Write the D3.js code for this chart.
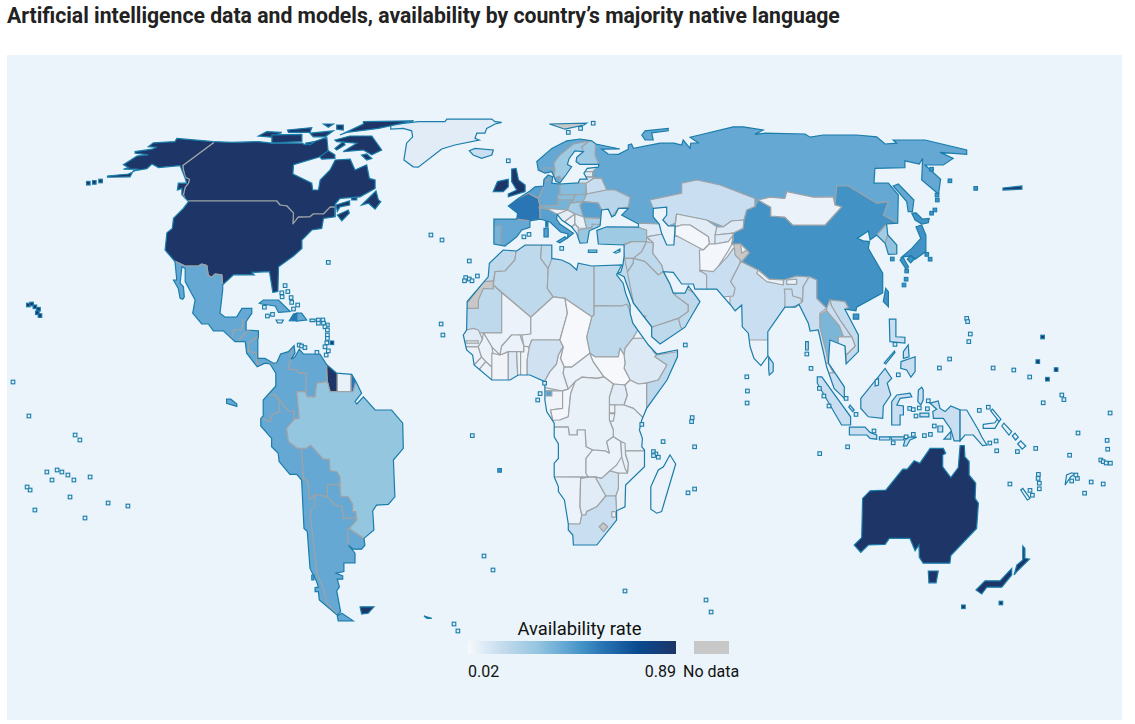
<!DOCTYPE html>
<html>
<head>
<meta charset="utf-8">
<script src="https://cdn.jsdelivr.net/npm/d3@7"></script>
<style>
html, body { margin: 0; background: #fff; }
svg { display: block; font-family: Roboto, sans-serif; }
</style>
</head>
<body>
<svg id="chart" width="1135" height="724"></svg>
<script>
var chartTitle = "Artificial intelligence data and models, availability by country\u2019s majority native language";
var legendTitle = "Availability rate";
var noDataLabel = "No data";
var rateExtent = [0.02, 0.89];
var rateStops = [0.02, 0.11, 0.2, 0.31, 0.42, 0.5, 0.58, 0.73, 0.89];
var rateColors = ["#f7f8fb", "#d6e6f4", "#b9d5ea", "#95c6e0", "#65a8d4", "#4292c6", "#2a75b4", "#0a4a90", "#1d3567"];

var mainlands = [
	// the Americas
	[-114.4,65.4,-102.2,64.6,-96.1,64.4,-87.2,64.6,-82.7,64.2,-72.7,64.2,-71.6,63.8,-64.4,65.7,-63.9,61.7,-67.2,60.7,-75.5,58.8,-75.7,56.5,-69.4,54.2,-69.1,52.5,-67.2,52.5,-66.6,55,-63.3,57.5,-61.6,60,-56.6,60.2,-55,57.5,-51.1,58.8,-50.2,55.4,-48.3,55,-48.3,52.9,-53.3,50.8,-60,50.4,-61.6,49,-61.6,45.8,-65.5,45.4,-66.1,42.9,-69.4,42.5,-72.7,40,-72.7,37.9,-75.5,36,-80.5,33.3,-80.7,27.1,-82.4,26.9,-83.5,32.1,-89.4,31.9,-88.6,31.3,-95.5,31.3,-99.1,28.8,-99.1,27.5,-100,21.7,-98.3,20.7,-94.4,20.8,-92.7,22.9,-89.4,22.9,-89.4,21.7,-91.3,19.6,-91.3,17.5,-87.2,17.3,-87.2,15.8,-87.4,15,-87.4,10.4,-85,10.4,-82.2,9.2,-81.1,9.3,-79.8,11.5,-77.2,12.1,-75.3,13.6,-75,11.7,-76.3,10.2,-75,10.8,-73.6,12.7,-72.2,11.5,-66.7,11.5,-64.4,8.8,-61.1,6.7,-56.1,6.4,-54.7,4.6,-52.8,1.7,-55,-0.4,-54.4,-1,-52.2,0.8,-48.3,-2.5,-42.8,-2.5,-39.1,-5.8,-38.9,-12.1,-42.2,-15,-41.7,-24.2,-43.9,-26.1,-47.8,-26.3,-49.1,-27.7,-48.7,-32.5,-52,-34.6,-51.7,-36.3,-52.8,-37.3,-55.6,-37.3,-57.2,-36.3,-55,-38.3,-55,-40.7,-58.7,-40.7,-58.7,-42.9,-61.3,-43.3,-59.1,-44,-59.1,-44.8,-60.9,-44.8,-60.2,-46.7,-61.1,-47.7,-59.8,-52.9,-60.9,-53.8,-66.9,-50,-67.2,-47.9,-68.3,-47.9,-68.3,-46.9,-67.2,-46.8,-67.8,-45.4,-70,-42.1,-70.9,-32.9,-72,-32.1,-72.8,-20,-74.4,-18.6,-76.7,-18.6,-80.3,-15.4,-80.6,-13.3,-82.8,-11.7,-82.8,-9.6,-86.4,-6.5,-86.4,-4.6,-85.6,-4,-85.6,0,-81.4,3.5,-81.4,6.7,-83.3,9,-85,9.2,-87.6,8.3,-91.1,11.7,-91.6,14.6,-95,14.6,-98.9,17.3,-102.2,17.3,-103.9,19,-106.1,19,-109.1,21.7,-108.3,25,-111.6,29.6,-111.6,32.9,-112.7,33.3,-113.3,29.2,-112.2,28.3,-111.9,25.8,-112.4,25.2,-113.3,25.4,-113.9,27.9,-115.5,30,-114.4,30,-115,34.6,-118.3,37.5,-117.7,41.8,-115.9,42.9,-115.5,45.4,-112.2,47.9,-110.5,49.6,-112.7,51.3,-112.7,52.9,-114.2,52.5,-113.9,54.2,-111.1,54.2,-111.6,55.4,-112.7,57.5,-113.3,58.6,-120.5,58.1,-122.7,59,-124.4,57.8,-128.9,57.3,-130,55.8,-137.5,55.7,-137.5,56,-130.5,56.5,-127.2,57.7,-132.2,57.7,-130.5,58.1,-132.2,58.8,-127.7,61,-123.9,61.3,-128.3,61.7,-128.3,62.1,-122.7,62.7,-121.1,63.2,-123.9,63.3,-122.2,64.3,-115,64.6],
	// Africa
	[-5.6,37.5,-1.1,37.25,1.7,38.75,10.6,38.75,10.6,35.4,13.9,35,16.7,34,18.9,32.5,19.4,34.2,23.9,33.5,33.9,33.75,32.2,31.25,34.4,29.2,35.2,26.7,36.7,23.75,36.7,21.7,37.6,19.2,42.8,13.75,45.6,11.5,52.5,12.5,52.5,10.8,49,5,42.2,-2.1,40.6,-5,39.8,-7.5,40.8,-9.6,40.6,-11.7,41.5,-12.5,41.5,-16.7,35.2,-21.25,35,-26.7,32.2,-27.7,32.2,-30,25.6,-36.25,17.8,-36.25,17.6,-33.75,16.1,-32.5,16.1,-31,14.8,-25,12.8,-22.9,12.8,-21.7,11.4,-19.2,11.4,-15.8,12.8,-14.6,12.8,-11,11.4,-9.2,11.4,-5.8,8.9,-2.9,8.3,0,8.3,4.6,3.3,6.25,-0.6,6.25,-3.3,5,-9.4,5,-15.3,8.75,-15.8,11.25,-17.8,12.5,-18.9,16.25,-17.8,17.5,-17.6,24.6,-10.6,30.8,-10.2,34.2],
	// Eurasia
	[-8.7,45.2,-1.1,45.2,-0.8,46.7,-3.9,48.5,-0.6,50.4,3.3,52.25,5,53.3,7.8,53.5,8,55.2,9.4,56.25,10.9,55.8,10.6,54.2,13.3,54,19.4,54.3,20,55.2,22.4,55.2,21.3,56.7,22.4,57.9,26.1,58.2,26.3,58.9,20,58.9,18.7,59.6,18.9,60.7,21.1,62.1,18.3,62.3,16.4,60.4,15.8,58.9,17.2,58.3,15.3,56.25,13.3,54.3,12,54.6,10.6,57.1,8.3,56.7,6.1,57.5,5.6,59.6,10.6,62.9,15.6,64.8,20,65.25,23.9,64.8,25.3,64,33.3,62.75,27.2,62.7,29.4,61.5,32.8,61.4,36.1,62.7,36.1,63.75,37.2,64,37.8,62.9,46.7,64.2,51.3,64.2,53.9,63.75,54.4,65,56.7,62.9,56.9,64.2,59.4,64.3,56.7,65.7,59.8,66.25,71.1,68.3,74.4,68.3,81.1,67.5,78.3,66.4,81.7,66.7,95,66.5,96.7,65.7,101.1,66.25,112.2,66.25,118.9,65.8,121.7,64,125.6,64.2,124.4,65,135,65,148.9,62.5,148.9,61.4,140,61.9,144.4,60.4,141.1,58.75,135,58.75,140.2,55.2,139.5,51.5,133.9,55,134.2,60.4,133.1,59,128.3,59.8,128.3,58.1,118.3,57.9,118,54.2,122.8,54.2,126.1,51.25,125.9,44.2,122.2,44,122.6,41.25,125.6,38.75,125.6,36.5,122.8,36.4,121.7,39.2,118.9,41.25,116.7,40,116.1,42.25,112.4,40.4,114.4,39.8,116.5,39.6,116.1,37.9,120.9,31.7,120.9,26.8,112.2,23.2,112,22.3,108.3,22.7,112.8,16.25,112.8,12.1,108.7,9,108.3,13.5,103.3,15,102.8,9.2,108.1,3.3,108.1,0.4,104.7,2.9,102.2,8.3,101.1,12.1,99.4,17.5,96.7,17.25,96.1,19.2,93,23.9,91.7,23.2,88.3,23.2,82.6,17.1,82.6,11,80.3,8.6,78,10.4,76.7,13.3,76.1,16.7,74.1,18.3,73.9,23.75,71.7,22.3,70.2,23.75,67.8,25.8,65.6,27.7,58.3,27.7,57.8,29,53.9,29,51.1,31.9,47.8,32.1,50,29,51.1,26.7,55,26.7,56.1,28.5,60,24.6,55,18.2,46.7,14,43.9,15.8,43.9,18.3,37.8,24.2,34.7,30.8,32.5,31.6,33.6,32,34.3,33.75,34.7,36,34.7,38.75,26.1,39,25.6,42.4,28.9,43.3,39.5,43.2,39.5,44,33.9,46.25,36.1,47.9,32.8,47.9,31.7,46.25,30.6,45.8,29.4,47.7,27.2,47.5,26.7,43.6,25.8,43.2,23.1,42.3,22.4,39.3,20,39.2,18.9,41.7,17.2,43.3,13.9,45,12.4,46.4,12.2,45.2,13.3,44,17.8,41.7,15.8,40.5,16,41.5,13.5,42,10,44.5,7.8,45,6.7,45.2,3.3,44.8,3.3,43.2,0.6,42.5,-1.1,40.8,-5,38.5,-8.7,39]
];
var caspianSea = [44.4,47.9,48.9,48.2,48.9,46.25,47.6,45,49.4,43.5,51.7,43.5,51.3,38.75,48.9,38.75,47.2,41.7,46.4,44,44.4,45.8];

// rows: name, rate, outline. Outlines run past the coast, the coastline clips them.
var northAmerica = [
	["Canada",0.89,[-140,76,-30,76,-30,40,-61.6,43,-61.6,45.8,-61.6,48.2,-63.3,48.2,-65.5,46.5,-68.9,46.5,-70,45.8,-73.9,45.7,-75.7,44,-75.5,46.7,-77.7,48.5,-80,48.75,-81.1,49.75,-110.5,49.75,-111.1,49.7,-112.2,51.3,-111.6,53.2,-110.5,54.2,-110.2,55.2,-111.6,55.7,-112.2,57.5,-112.4,58.6,-102.2,64.3,-102.2,76]],
	["Alaska",0.89,[-150,70,-102.2,70,-102.2,64.3,-112.4,58.6,-112.2,57.5,-111.6,55.7,-110.2,55.2,-110.5,54.2,-111.6,53.2,-112.2,51.3,-113,51.3,-150,51.3]],
	["United States",0.89,[-125,49.75,-110.5,49.75,-81.1,49.75,-80,48.75,-77.7,48.5,-75.5,46.7,-75.7,44,-73.9,45.7,-70,45.8,-68.9,46.5,-65.5,46.5,-63.3,48.2,-61.6,48.2,-61.6,45.8,-60,40,-70,25,-82,24,-99.1,28.8,-99.4,31.3,-101.6,31.5,-102.7,30.7,-103.9,31.1,-104.4,33.6,-106.1,34,-107.2,33.5,-111.6,33.5,-115,34.7,-125,34.7]],
	["Mexico",0.42,[-125,36,-115,34.7,-111.6,33.5,-107.2,33.5,-106.1,34,-104.4,33.6,-103.9,31.1,-102.7,30.7,-101.6,31.5,-99.4,31.3,-99.1,28.8,-88,28,-88,20,-91.3,19.6,-92.4,20,-92.7,17.5,-95.5,17.5,-96.1,15.4,-96,10,-125,10]],
	["Guatemala",0.42,[-92.4,20,-92.7,17.5,-95.5,17.5,-96.1,15.4,-95,12,-93.9,14.8,-91.1,17.1,-91,20]],
	["Honduras",0.42,[-93.9,14.8,-91.1,17.1,-85,18,-87.2,16,-90.5,14.2,-90.5,8,-95,12]],
	["Nicaragua",0.42,[-90.5,14.2,-87.2,16,-85,15,-85,11.5,-87.7,11.7,-90.2,12.1,-92,12.1,-92,8,-90.5,8]],
	["Costa Rica",0.42,[-92,12.1,-90.2,12.1,-87.7,11.7,-87.6,8.3,-87.2,6,-92,6]],
	["Panama",0.42,[-87.7,11.7,-84,12,-81.1,9.3,-83.3,9,-83.3,5,-87.6,5,-87.6,8.3]]
];
var southAmerica = [
	["Chile",0.42,[-95,-20,-72.2,-19.6,-70.6,-20.4,-70.2,-24.8,-68.3,-23.6,-60,-40,-55,-60,-95,-60]],
	["Peru",0.42,[-95,-4.6,-85.8,-4.6,-83.3,-5.4,-82.8,-3.75,-80.2,-2.9,-80.2,-0.4,-81.7,1.4,-77.2,-2.75,-75.3,-2.9,-75.3,-4.8,-73.6,-4.6,-77.8,-7.1,-77.2,-10.4,-74.2,-12.1,-72.8,-12.1,-72.2,-19.6,-72.8,-20,-95,-20]],
	["Ecuador",0.42,[-95,1.25,-83.3,1.25,-81.7,1.4,-80.2,-0.4,-80.2,-2.9,-82.8,-3.75,-83.3,-5.4,-85.8,-4.6,-95,-4.6]],
	["Venezuela",0.42,[-76.3,10.2,-77.4,7.7,-74.2,7.5,-73.9,6.7,-71.3,6.7,-71.3,2.1,-70.9,0.8,-68.3,0.8,-67.8,4.2,-64.2,4.6,-64.4,7.9,-64,14,-76,14]],
	["Colombia",0.42,[-83.3,9,-81.1,9.3,-81,14,-76,14,-76.3,10.2,-77.4,7.7,-74.2,7.5,-73.9,6.7,-71.3,6.7,-71.3,2.1,-71.7,2.1,-74.4,2.1,-73.6,-4.6,-75.3,-4.8,-75.3,-2.9,-77.2,-2.75,-81.7,1.4,-83.3,1.25,-95,1.25,-95,9]],
	["Bolivia",0.42,[-72.8,-12.1,-72.2,-19.6,-70.6,-20.4,-70.2,-24.8,-68.3,-23.6,-64.2,-24.2,-64.2,-21.25,-60,-21.1,-60,-19.2,-60,-10,-72,-10]],
	["Paraguay",0.42,[-64.2,-21.25,-60.2,-21.1,-59.8,-24,-57.2,-24.2,-55.8,-26,-55.8,-27.9,-54.7,-27.9,-54.7,-29.6,-58.9,-29.6,-59.4,-26.7,-61.7,-26.25,-64.2,-24.2]],
	["Argentina",0.42,[-68.3,-23.6,-64.2,-24.2,-61.7,-26.25,-59.4,-26.7,-58.9,-29.6,-54.7,-29.6,-54.4,-30,-56.9,-32.1,-57.4,-32.5,-57.2,-36.3,-50,-38,-40,-56,-60.6,-56,-60.6,-53.75,-64.4,-50.8,-65.6,-46.7,-66.7,-45.2,-67.8,-42.9,-67.8,-41.7,-69.1,-34.2,-69.8,-29.2,-69.8,-27.7,-68.6,-26.7]],
	["Uruguay",0.42,[-57.4,-32.5,-56.9,-32.1,-52,-34.6,-50,-36,-50,-37.6,-55.6,-37.6,-57.2,-36.3]],
	["Guyana",0.89,[-64.4,7.9,-64.4,10,-60.9,10,-60.9,2.1,-63.3,2.1,-64.2,4.6]],
	["Suriname",0.06,[-60.9,10,-56.3,10,-56.3,2.1,-60.9,2.1]],
	["French Guiana",0.58,[-56.3,10,-52,6,-54.7,4.6,-55.6,2.1,-56.3,2.1]],
	["Brazil",0.31,[-55.6,2.1,-63.3,2.1,-64.2,4.6,-67.8,4.2,-68.3,0.8,-70.9,0.8,-71.7,2.1,-74.4,2.1,-73.6,-4.6,-75.3,-4.8,-77.8,-7.1,-77.2,-10.4,-74.2,-12.1,-71.3,-12.1,-69.8,-11.3,-65.6,-14.8,-63.6,-14.8,-63.3,-17.7,-61.1,-17.9,-60,-19.2,-59.8,-24,-57.2,-24.2,-55.8,-26,-55.8,-27.9,-54.7,-27.9,-54.4,-30,-56.9,-32.1,-52,-34.6,-30,-36,-30,10,-54.7,4.6]]
];
var europe = [
	["Norway",0.42,[0,55,0,70,30,70,30,55]],
	["Russia",0.42,[23.9,72,200,72,200,40,125.9,44.2,105,44,43,40,39.5,44,33,46.3,36.1,48.2,36.7,50.7,31.7,52.5,28.9,52.5,27.2,55.4,24.2,55.7,24.2,57.5,26.3,58.9,25,61.25,23.9,64.8]],
	["Sweden",0.28,[11.7,57.5,11.3,59.2,13.3,61.25,17.8,64,23.3,64.8,20.6,63.3,21.1,62.1,20,60,17,54.3,11,54.4]],
	["Finland",0.28,[23.3,64.8,25.3,66,25,61.25,26.3,58.9,20,58.6,18.7,59.6,18.9,60.7,21.1,62.1,20.6,63.3]],
	["Spain",0.42,[-15,46,-0.8,45.9,3.3,45,6,43,-5,36,-15,36]],
	["Portugal",0.38,[-15,43.5,-6.4,43.5,-6.4,38,-15,38]],
	["France",0.58,[-10,50,-0.6,50.4,2.8,51.7,6.1,50.4,6.7,48.5,6.7,45.2,3.3,44.8,-1.1,45.2,-10,45.2]],
	["Netherlands",0.45,[2.8,51.7,3.3,55,7.8,55,7.8,53,6.1,50.4]],
	["Denmark",0.42,[7.8,58,11,58,11,54.4,7.8,54.6]],
	["Germany",0.42,[7.8,54.6,13.3,56,13.3,50.4,12.4,50,12.8,48.75,6.7,48.5,6.1,50.4,7.8,53]],
	["Poland",0.34,[13.3,55.5,22,55.5,22,51.5,18.3,51.25,13.3,51.25]],
	["Czechia",0.34,[12.4,51.25,18.3,51.25,17.8,50,12.8,50]],
	["Slovakia",0.34,[18.3,51.25,22.2,51.5,21.1,49.6,16.7,49.2,17.8,50]],
	["Austria",0.38,[6.7,48.5,12.8,48.75,12.4,50,17.8,50,16.7,49.2,15.8,47.5,8.9,47.9,6.4,48.2]],
	["Switzerland",0.3,[6.4,48.2,8.9,47.9,9.4,47.7,6.7,47]],
	["Hungary",0.26,[15.8,47.5,16.7,49.2,21.1,49.6,20,48.75,21.1,45.8,18.3,46.5]],
	["Belarus",0.15,[24.4,55.4,27.2,55.4,28.9,52.5,22.2,51.5,22,54.2]],
	["Estonia",0.07,[21,58.5,26.2,58.5,24.2,57.1,21,57.1]],
	["Latvia",0.09,[21,57.1,24.2,57.1,24.2,55.8,21,55.8]],
	["Lithuania",0.12,[19.4,55.8,24.2,55.7,24.4,55.4,22,54.2,19.4,54.2]],
	["Ukraine",0.2,[22.2,51.5,28.9,52.5,31.7,52.5,36.7,50.7,36.1,48.2,32.8,47.9,30.6,45.8,29.4,47.7,27.2,47.5,26.1,49.2,21.1,49.6]],
	["Romania",0.45,[20,48.75,21.1,49.6,26.1,49.2,27.2,47.5,26.9,45.4,21.3,45.6,21.1,45.8]],
	["Bulgaria",0.26,[21.3,45.6,26.9,45.4,26.7,43.2,22.2,42.9]],
	["Greece",0.3,[19.4,42.5,22.2,42.9,26,43.3,22.8,38,19.4,38]],
	["Croatia",0.07,[12.4,46.4,15.8,47.5,18.3,46.5,15,44.6,13,44]],
	["Bosnia",0.05,[15,44.6,18.3,46.5,18.3,44,17,43]],
	["Serbia",0.06,[18.3,46.5,21.1,45.8,21.3,45.6,22.2,42.9,19.5,43,18.3,44]],
	["Albania",0.08,[17,43,18.3,44,19.5,43,19.4,42.5,19.4,39,18,40]],
	["Italy",0.45,[6.7,48,9.4,47.7,12.4,46.4,12.4,44.6,18,41.5,18,39,8,43,6.7,45.2]]
];
var asia = [
	["Turkey",0.28,[24,44,39.5,43.2,42.2,42.5,42.2,39.6,37.2,39.6,33,38.5,24,38.5]],
	["Caucasus",0.09,[39.4,44.2,46.4,44,47.6,41.5,42.2,40.8,42.2,42.5,39.5,43.2]],
	["Iran",0.11,[42.2,40.8,44.4,39.3,44.2,36.7,47.2,33.75,47.8,32.1,50,25,62.2,20,65,32,65,40,51,41,47.6,41.5]],
	["Syria",0.18,[37.2,39.6,42.2,39.6,40.6,37.1,37.8,35.4,35,35.4,34,38.5]],
	["Iraq",0.18,[40.6,37.1,42.2,39.6,44.4,39.3,44.2,36.7,47.2,33.75,47.8,32.1,46.1,31.25,41.7,34.6,37.8,35.4]],
	["Jordan",0.18,[35,35.4,37.8,35.4,37.8,34.2,34.7,30.8,33.9,33.75]],
	["Saudi Arabia",0.18,[34.7,30.8,37.8,34.2,37.8,35.4,41.7,34.6,46.1,31.25,47.8,32.1,50,29,51.1,26.7,51.7,26.2,56.1,23.75,56.1,22.1,52.8,20.4,44.4,18.3,43.9,18.3,37.8,24.2]],
	["Yemen",0.18,[43.9,18.3,44.4,18.3,52.8,20.4,53.6,18.2,55,18.2,46.7,10,43,10]],
	["Oman",0.18,[52.8,20.4,56.1,22.1,56.1,23.75,51.7,26.2,53,29,62,25,55,17,53.6,18.2]],
	["Kazakhstan",0.15,[43.3,50,53.9,51.7,53.9,54.2,58.9,55,61.7,54.6,66.7,53.75,78.3,50.4,78.3,48.3,75.6,47.5,74.7,45,70.5,44.75,67.8,43.3,62.2,45,52.2,46.5,51.7,44.2,49.4,43.5,44.4,47.9]],
	["Uzbekistan",0.08,[52.2,46.5,62.2,45,65.6,43.3,65,39,63.1,39,62.8,40.8,56.7,43.75,53.9,43.75,51.7,43.3]],
	["Kyrgyzstan",0.09,[65.6,43.3,67.8,43.3,70.5,44.75,74.7,45,74.4,42.9,71.1,41.7,65,41.25]],
	["Tajikistan",0.09,[65,41.25,71.1,41.7,71.1,40,69.4,39.6,65,39]],
	["Turkmenistan",0.03,[51.7,43.3,53.9,43.75,56.7,43.75,62.8,40.8,63.1,39,61.1,37.5,51.7,41.25]],
	["Afghanistan",0.03,[59.8,37.5,61.1,37.5,63.1,39,65,39,69.4,39.6,71.1,41.25,70.5,38.75,69.4,37.3,65,32.1,60,32.1]],
	["India",0.15,[73.9,34.6,79.4,32.5,83.1,30.2,87.8,30,92.2,31,96.4,30.8,94.4,28.3,94.2,24.6,93,23.9,90,15,70,15,70,26,70.2,29.6,73.3,34.2]],
	["Pakistan",0.15,[62.2,20,62.2,31.25,59.8,32.5,64.4,32.1,69.1,35.8,71.1,37.9,73.6,37.1,73.3,34.2,70.2,29.6,71.7,27.9,71.1,26,67.8,25.8,67.8,20]],
	["China",0.5,[79.4,50,78.3,48.3,75.6,47.5,74.7,45,74.4,42.9,71.1,41.7,71.1,40,70.5,38.75,71.3,39,73.6,39,75.6,37.5,76.4,36.8,73.9,34.6,79.4,32.5,83.1,30.2,87.8,30,92.2,31,96.4,30.8,98.9,30,98.9,25.4,102.2,22.9,103.3,25,108.3,24.6,109.4,23.2,108.3,22.7,112,19,130,15,130,44,125.9,44.2,121.1,46.25,122.8,49.6,118.9,49.2,109.4,53.5,105.6,53.5,105,48.75,107.2,48.3,101.7,43.75,90.9,43.75,88.3,45.7,83.6,46,83.6,48.2]],
	["Mongolia",0.05,[79.4,50,83.3,50.7,88.3,50.4,88.9,52.1,97.8,50.7,104.4,50.8,105,48.75,107.2,48.3,101.7,43.75,90.9,43.75,88.3,45.7,83.6,46,83.6,48.2]],
	["North Korea",0.27,[118.9,41.25,122.2,44,125,44,122.6,41.25,121.7,39.2]],
	["South Korea",0.32,[121.7,39.2,122.6,41.25,127,38,127,35,122.8,35]],
	["Kashmir",null,[71.3,39,73.6,39,73.9,36.7,75.6,37.5,76.4,36.8,73.9,34.6,71.7,36.25]],
	["Nepal",0.06,[79.4,32.5,83.1,30.2,87.8,30,87.8,28.75,82.2,29.6,78.9,31.7]],
	["Bhutan",0.06,[88.9,30,92.2,30.2,92.2,28.9,88.9,28.9]],
	["Bangladesh",0.15,[88.1,27.7,90.6,27.7,90.9,26,93.6,25.4,93.9,24.2,93,23.9,91.7,22,88.3,22,88.3,26.25]],
	["Myanmar",0.15,[96.4,30.8,98.9,30,98.9,25.4,102.2,22.9,100,21.7,100,18.3,102.2,11.7,102.8,9.2,90,9,90,23,93,23.9,94.2,24.6,94.4,28.3]],
	["Laos",0.15,[102.2,22.9,103.3,25,103.9,23.5,106.7,20,110.6,15.8,107.8,15.8,106.4,18.5,102.2,22.3]],
	["Thailand",0.37,[100,21.3,102.2,22.3,106.4,18.5,107.8,15.8,106.1,15.8,106.1,13.75,103.3,15,106.7,6.8,104.4,6.8,102.8,9.2,102.2,11.7,100,18.3]],
	["Vietnam",0.17,[103.3,25,108.3,24.6,109.4,23.2,108.3,22.7,116,16,116,8,108.7,8,108.7,11.25,111.7,13.5,110.6,15.8,106.7,20,103.9,23.5]],
	["Cambodia",0.09,[106.1,15.8,110.6,15.8,111.7,13.5,108.7,11.25,108.3,13.5,106.1,13.75]],
	["Malaysia",0.15,[102,6.8,106.7,6.8,110,0,106,-1]]
];
var africa = [
	["Morocco",0.18,[-20,37,-5.6,38,-1.3,37.25,-1.7,35,-5,32.25,-8.3,32.1,-8.9,29.6,-12.2,29.6,-20,30]],
	["Algeria",0.18,[-1.3,37.25,1.7,38.75,7.2,38.75,6.9,35.4,9.4,32.9,9.1,27.9,11.1,25.8,3.6,20.7,-8.9,28.75,-8.3,32.1,-5,32.25,-1.7,35]],
	["Tunisia",0.18,[7.2,38.75,11,38.75,11,35,9.4,32.9,6.9,35.4]],
	["Libya",0.18,[9.4,32.9,12,38,24.7,38,24.7,21.25,23.9,20.8,15,25.4,11.1,25.8,9.1,27.9]],
	["Egypt",0.18,[24.7,35,35,35,38,23.6,33.9,23.5,24.7,23.6]],
	["Sudan",0.18,[24.7,23.6,33.9,23.5,35.6,24,37.2,21.25,42,21,37.6,15.4,35,12.9,34.7,11.25,33.3,12.9,32.8,10.8,25,10.8,23.3,11.7,22.2,15.7,23.9,20.8,24.7,21.25]],
	["Ethiopia",0.09,[37.6,15.4,44,15.5,44.4,12.1,45.6,11.25,45,10.8,49,8.75,46.1,5,42.2,4.2,39.4,4,36.7,5,34.7,7.9,35,9.2,34.7,11.25,35,12.9]],
	["Somalia",0.18,[45,11,45.6,11.25,60,13,60,0,42.2,-2.5,42.2,4.2,46.1,5,49,8.75,45,10.8]],
	["Mauritania",0.18,[-8.9,28.75,-6.1,26.8,-6.1,16.8,-17.6,16.8,-25,16.8,-25,25,-8.9,29.6]],
	["Western Sahara",null,[-17.6,22.9,-13.9,22.9,-13.9,25,-12.2,27.9,-8.9,27.75,-8.9,29.8,-12.2,29.6,-17.2,24.6,-25,24]],
	["Mali",0.05,[-6.1,26.8,3.6,20.7,3.6,16.5,0.6,16.25,-2.8,16.25,-6.1,13.5,-6.7,11.25,-9.4,13.3,-12.2,16.8,-6.1,16.8]],
	["Senegal",0.08,[-17.8,17.5,-15.6,17.9,-13.9,17.5,-12.6,15.4,-12.6,15,-13.9,13.3,-17.8,13.3,-25,16]],
	["Gambia",0.04,[-18,14.8,-13.9,14.8,-13.9,14.2,-18,14.2]],
	["Guinea Bissau",0.05,[-25,13.3,-13.9,13.3,-12.8,10.7,-15.3,8.75,-20,8]],
	["Guinea",0.05,[-13.9,13.3,-12.6,15,-12.2,16.8,-9.4,13.3,-9,11.7,-9.4,8.2,-11.4,9.6,-12.8,10.7]],
	["Sierra Leone",0.05,[-15.3,8.75,-12.8,10.7,-11.4,9.6,-13.3,7.9,-18,7]],
	["Liberia",0.05,[-13.3,7.9,-11.4,9.6,-9.4,8.2,-9.4,3,-14,3]],
	["Ivory Coast",0.04,[-9.4,11.7,-6.7,11.25,-3.9,12.1,-3.9,3,-9.4,3]],
	["Burkina Faso",0.05,[-6.7,11.25,-6.1,13.5,-2.8,16.25,0,16.25,1.3,13.5,1.3,12,-3.9,12.1]],
	["Ghana",0.09,[-3.9,12.1,-1.1,12.1,-0.6,3,-3.9,3]],
	["Togo",0.05,[-1.1,12.1,0.2,12.1,0.2,3,-0.6,3]],
	["Benin",0.04,[0.2,12.1,1.3,12,1.3,13.5,3.1,13.3,2.4,10,2.4,3,0.2,3]],
	["Niger",0.05,[3.6,20.7,11.1,25.8,15,25.4,15.8,21.7,13.3,15,3.9,15,3.1,13.3,1.3,13.5,0.6,16.25,3.6,16.5]],
	["Nigeria",0.13,[3.9,15,13.3,15,14.4,13.3,12.8,11.25,12.2,9,10,7.1,8.3,4.8,8,2,2.4,2,2.4,10,3.1,13.3]],
	["Chad",0.02,[15,25.4,23.9,20.8,22.2,15.7,23.3,11.7,17.2,8.2,14.7,8.3,13.5,10.4,14.4,13.3,13.3,15,15.8,21.7]],
	["Cameroon",0.05,[14.4,13.3,12.8,11.25,12.2,9,10,7.1,8.3,4.8,7,3.3,13.9,2.3,16.1,2.7,14.4,6.7,14.7,8.3,13.5,10.4]],
	["Central African Republic",0.05,[14.7,8.3,17.2,8.2,23.3,11.7,24.4,9.6,28,5.8,25.6,5.4,20.6,5.7,18.4,4.6,16.1,2.7,14.4,6.7]],
	["South Sudan",0.02,[25,10.8,32.8,10.8,33.3,12.9,34.7,11.25,35,9.2,34.7,7.9,36.7,5,35,3.75,31.1,4,28,5.8,24.4,9.6,23.3,11.7]],
	["Uganda",0.08,[31.1,4,35,3.75,35.8,1.25,34.7,-1.25,29.8,-1.25,29.8,0.8]],
	["Kenya",0.05,[35,3.75,36.7,5,39.4,4,42.2,4.2,42.2,-2.5,46,-8,37.8,-2.1,34.7,-1.25,35.8,1.25]],
	["Tanzania",0.06,[29.8,-1.25,34.7,-1.25,37.8,-2.1,46,-8,46,-12.7,35,-12.7,33.6,-10.4,31.1,-9.2,31.1,-7.5,29.8,-5]],
	["Rwanda",0.05,[29.8,-1.25,31.6,-1.25,31.6,-3.2,29.8,-3.2]],
	["Burundi",0.05,[29.8,-3.4,31.6,-3.4,31.1,-5.3,29.8,-5.3]],
	["Gabon",0.04,[5,2.3,14.2,2.3,14.2,-2.1,10.2,-2.5,11,-5.2,5,-5.2]],
	["Equatorial Guinea",0.45,[8.7,2.3,10.6,2.3,10.6,1,8.7,1]],
	["Congo",0.03,[14.2,2.3,16.1,2.7,18.4,4.6,16.9,1.7,16.1,-4.2,13.3,-5,11,-5.2,10.2,-2.5,14.2,-2.1]],
	["DR Congo",0.06,[18.4,4.6,20.6,5.7,25.6,5.4,28,5.8,31.1,4,29.8,0.8,29.8,-5,31.1,-7.5,31.1,-9.2,28.9,-10.4,29.8,-13.3,28.3,-12.7,24.2,-12.5,22,-11.7,21.7,-7.5,19.1,-7.5,19.1,-8.75,16.4,-8.75,16.1,-6.8,5,-6.7,5,-5.2,13.3,-5,16.1,-4.2,16.9,1.7]],
	["Angola",0.05,[5,-6.7,16.1,-6.8,16.4,-8.75,19.1,-8.75,19.1,-7.5,21.7,-7.5,22,-11.7,24.2,-12.5,22,-14.6,22,-18.3,22.8,-19.3,11,-19.2,5,-19]],
	["Zambia",0.05,[24.2,-12.5,28.3,-12.7,29.8,-13.3,28.9,-10.4,31.1,-9.2,33.6,-10.4,33.9,-14.2,32.2,-16.25,30,-17.7,27.2,-19.6,25,-19.2,22.8,-19.3,22,-18.3,22,-14.6]],
	["Mozambique",0.06,[35,-12.7,46,-12.7,45,-20,36,-28,32.2,-28,31.9,-24,32.8,-22.1,32.8,-18.3,35.8,-18.3,36.1,-15.8,35.2,-13.75]],
	["Malawi",0.06,[33.6,-10.4,35,-10.8,35.2,-13.75,36.1,-15.8,35.8,-18.3,35,-17.1,33.9,-14.2]],
	["Zimbabwe",0.12,[25,-19.2,27.2,-19.6,30,-17.7,32.8,-18.3,32.8,-22.1,31.9,-24,28.6,-24]],
	["Namibia",0.05,[11,-19.2,22.8,-19.3,20.2,-19.6,20,-26.7,20.6,-28.75,20,-31,10,-31,5,-19]],
	["Botswana",0.08,[20.2,-19.6,22.8,-19.3,25,-19.2,28.6,-24,25.6,-26.7,22.2,-27.9,22,-28.75,20.6,-28.75,20,-26.7]],
	["South Africa",0.15,[20.6,-28.75,22,-28.75,22.2,-27.9,25.6,-26.7,28.6,-24,31.9,-24,32.2,-28,36,-28,36,-40,10,-40,10,-31,20,-31]],
	["Lesotho",null,[26.4,-31.7,27.8,-30.7,29.2,-31.7,27.8,-32.9]],
	["Eswatini",0.05,[30.6,-27.9,31.9,-27.9,31.9,-29.3,30.6,-29.3]]
];
var islands = [
	["Greenland",0.08,[-43.1,68.75,-33.9,69.6,-25,69.6,-24.4,70.2,-9.4,70.25,-8.3,69.6,-6.1,69.4,-8.3,69,-11.1,67.9,-11.7,66.7,-14.4,66.7,-15,65.4,-13.6,65,-21.7,63.75,-26.1,62.75,-33.9,58.2,-35.6,58.3,-38.7,60,-37.8,64.2,-35.8,65.8,-36.1,67.3,-38.9,67.9,-43.1,67.75]],
	["Iceland",0.15,[-16.9,62.3,-15,62.9,-8.9,62.5,-9.4,61.25,-12.8,60.4,-15.6,61.25]],
	["Svalbard",null,[9.8,69,22.2,69.2,21.3,68.75,15,67.7]],
	["Arctic A",0.89,[-87.2,66,-84.4,67.1,-79.4,66.9,-82.7,65.7]],
	["Arctic B",0.89,[-82.7,66.3,-72.7,66.4,-72.7,64.6,-82.7,64.3]],
	["Arctic C",0.89,[-77.5,67.5,-69.4,68.1,-70,66.9,-77.2,66.9]],
	["Arctic D",0.89,[-70,66.7,-62.2,67.3,-65,65.8,-68.9,65.8]],
	["Arctic E",0.89,[-71.6,64.2,-68.3,64.6,-70,63.8]],
	["Baffin",0.89,[-61.7,65,-56.7,66,-49.4,66,-46.1,62.5,-49.4,61.3,-52.2,62.5,-58.9,62.1,-54.4,64.2,-61.1,64.6]],
	["Arctic F",0.89,[-52.8,61.2,-51.1,61.5,-49.4,60.4,-51.1,60]],
	["Southampton",0.89,[-66.7,60.8,-63.9,62.3,-61.7,61.3,-61.7,60.4,-66.1,60.2]],
	["Arctic G",0.89,[-61.7,62.9,-58.9,64.6,-58.3,63.8,-61.1,62.5]],
	["Ellesmere",0.89,[-60,66.25,-52.2,69,-52.2,69.6,-35.5,69.8,-47.2,67.9,-57.8,66.9]],
	["Arctic H",0.89,[-65.5,69,-62.2,69,-63.9,68.2]],
	["Arctic I",0.89,[-61.1,68.75,-58.9,68.75,-58.9,67.5,-61.1,67.7]],
	["Newfoundland",0.89,[-52.8,48.75,-48,52.25,-47.2,50,-46.4,49.6,-48.3,47.7,-50.5,49.2]],
	["Nova Scotia",0.89,[-60.9,46.25,-57.2,47.5,-56.9,46.7,-59.4,44.8]],
	["Gaspe",0.89,[-61.3,48.75,-56.8,49.8,-56.8,48.75,-60,48.3,-60.9,47.1]],
	["Anticosti",0.89,[-56.1,50.6,-54.4,50.6,-54.4,50,-56.1,50]],
	["Cuba",0.42,[-86.9,24.2,-85.5,25,-80.5,25,-76.6,22.1,-80.5,21.9,-81.6,23.5,-86.1,24]],
	["Haiti",0.58,[-76.9,19.8,-75.5,21.5,-74.4,21.7,-74.4,19.75]],
	["Dominican Republic",0.42,[-74.4,21.7,-72.8,21.7,-71.1,20,-74.4,19.75]],
	["Jamaica",0.06,[-81.3,20,-78.9,20,-79.4,19.3,-80.8,19.3]],
	["Puerto Rico",0.15,[-70,20.2,-68.3,20.2,-68.3,19.6,-70,19.6]],
	["Tierra del Fuego",0.42,[-60.9,-54,-59.4,-53.3,-55.6,-55.2,-60.6,-55.2]],
	["Falklands",0.89,[-53.3,-51.7,-48.7,-51.7,-50.6,-53.3,-52.8,-53.5]],
	["South Georgia",0.42,[-32,-54,-29.4,-54.6,-31,-54.6]],
	["Chiloe",0.42,[-69.4,-43.75,-68.7,-43.75,-68.7,-45,-69.4,-45]],
	["Galapagos",0.42,[-97.8,0.2,-96.4,0.2,-94.4,-1,-94.4,-1.6,-97.8,-0.8]],
	["Ireland",0.89,[-8.9,52.1,-7.5,54.6,-3.9,55.2,-3.9,53.3,-5.6,52.1]],
	["Britain",0.89,[-2.8,57.7,-1.3,57.9,-0.5,55,1.7,53.75,1.7,52.1,-3.9,50.8,-3.9,51.5,-1.1,52.5,-2.8,54.6]],
	["Sicily",0.45,[12.4,39.6,15,40.8,15.6,40.4,13.3,39.3]],
	["Sardinia",0.45,[8,42.9,9.4,42.9,9.4,40.8,8,40.8]],
	["Corsica",0.58,[8.6,44.6,9.3,44.6,9.3,43.3,8.6,43.3]],
	["Crete",0.3,[22.8,37.5,25.6,37.5,25.6,36.9,22.8,36.9]],
	["Cyprus",0.06,[31.3,36.9,33.3,37.75,33.3,37.1,32,36.7]],
	["Novaya Zemlya",0.42,[40.6,66.25,41.7,67.3,49.4,67.9,49.4,67.3,43.9,66.8,44.4,65,41.7,65]],
	["Madagascar",0.05,[50,-13.75,51.9,-16,47.2,-27.9,45.6,-28.3,43.6,-27.3,43.6,-21.7,46.1,-17.5,47.8,-16.7]],
	["Sri Lanka",0.15,[82.9,10.8,84.4,9.2,84.4,7.1,83.1,6.25,82.9,7.5]],
	["Hokkaido",0.5,[130.6,46.7,132,46.8,134.2,45.2,136.4,45.4,136.1,44.3,133.9,44,131.7,45]],
	["Honshu",0.5,[132,43.3,133.9,43.75,135.3,41.25,135.3,37.1,131.7,35.2,130.6,36,127.2,35.7,130.6,37.9,133.6,40.4]],
	["Shikoku",0.5,[129.1,35.2,130.2,36.1,131.4,35.2,130.2,34.3]],
	["Kyushu",0.5,[126.7,35,127.6,35.8,129.5,33.3,128.7,32.75]],
	["Sakhalin",0.42,[124.4,53.5,126.1,54,131.3,50,130.8,47.1,129.4,47.1,128.9,49.6]],
	["Taiwan",0.5,[121.9,27.9,122.8,27.1,122.8,23.3,121.1,24.6]],
	["Hainan",0.5,[111.1,21.5,112.9,21.5,112.9,20.2,111.1,20.2]],
	["Commander Islands",0.89,[161,53,167.3,53.5,167.3,52.7,161,52.5]],
	["Sumatra",0.15,[99.1,5.8,100.6,5.8,110.2,-4.2,110.2,-6.25,107.2,-6.25,99.1,4.2]],
	["Java",0.15,[109.8,-6.8,115,-6.8,116.7,-8.1,118.9,-8.75,118.9,-9.8,116.7,-9.6,115.6,-8.75,109.8,-8.75]],
	["Sumbawa",0.15,[119.8,-9.2,123.3,-9.2,123.3,-10,119.8,-10]],
	["Flores",0.15,[123.6,-9.2,128.3,-9.2,127.8,-10,123.9,-10]],
	["Timor",0.15,[128.3,-10,129.4,-9.3,132.2,-9.3,130,-10,128.9,-11.5,127.8,-11.5]],
	["Borneo",0.15,[113.6,0.4,121.7,7.9,123.9,5.4,122.4,4.2,123.6,1.25,121.1,-1.5,120.9,-4.6,116.1,-4.2,113.6,-2.1]],
	["Brunei",0.05,[118.4,5,119.5,5.4,119.5,3.75,118.4,3.5]],
	["Sulawesi",0.15,[123.9,-6.25,123.9,-0.4,125.6,1.25,130,1.7,130.6,0.8,126.7,0.4,125.6,-1.25,127.8,-1.5,127.8,-3.75,126.7,-3.75,126.7,-6.25]],
	["Halmahera",0.15,[132.6,-0.4,132.8,2.5,133.9,3.2,134.4,2.5,134.4,0,133.6,-1.25]],
	["Luzon",0.15,[123.1,20.2,125.3,20.2,125.3,15.8,128.3,15.7,128.3,14.2,123.3,14.6]],
	["Mindanao",0.15,[127,9.6,131.7,10.8,131.7,7.1,130.3,5.7,128.9,7.5,126.9,7.9]],
	["Palawan",0.15,[121.4,9.3,124.8,12.25,125,11.9,121.9,9]],
	["Visayas",0.15,[127.8,12.1,129.4,13.75,129.7,10.8,127.8,10.4]],
	["New Guinea West",0.15,[136.7,-0.8,139.4,-0.25,140,-2.1,141.7,-2.9,143.6,-1.5,146.7,-2.5,146.7,-10.2,144.7,-10.2,143.6,-7.3,141.1,-4.6,137.8,-4.6,137.6,-2.9,138.9,-2.3]],
	["Papua New Guinea",0.08,[146.7,-2.5,148.9,-2.5,152.8,-7.5,153.9,-9.2,155.6,-11.25,154.2,-11.4,151.1,-8.75,148.3,-8.75,146.7,-10.2]],
	["Frederik",0.15,[141.3,-9.8,143.6,-7.9,143.6,-9.8]],
	["New Britain",0.06,[154.4,-6.1,158.3,-5.7,159.1,-4.8,159.8,-5.2,158.3,-7.1,154.4,-7.1]],
	["New Ireland",0.06,[156.9,-2.7,157.5,-2.3,160.3,-4.8,159.7,-5.4]],
	["Bougainville",0.06,[160.6,-6.5,161.3,-5.8,163.9,-7.9,163,-8.75]],
	["Malaita",0.06,[164.1,-9,165,-8.3,166.1,-9.3,165.2,-10]],
	["Guadalcanal",0.06,[165.9,-11,166.9,-10.2,168.6,-11.5,167.4,-12.3]],
	["New Caledonia",0.06,[166.9,-22.5,167.6,-22.1,170,-24.6,169.1,-25]],
	["Fiji",0.06,[181.7,-21.25,182.2,-18.75,183.9,-18.2,185,-18.5,183.6,-19.2]],
	["Seram",0.15,[133.3,-3.3,136.3,-3.3,136.3,-4.2,133.3,-4.2]],
	["Belitung",0.15,[109.6,-1.8,110,-1.25,111.4,-2.5,110.9,-2.9]],
	["Andaman",0.15,[95.2,14.6,96.1,14.6,96.1,12.5,95.2,12.5]],
	["Aru",0.15,[139.3,-6.5,140.9,-6.5,140.9,-8,139.3,-8]],
	["Australia",0.89,[133.3,-15.8,136.7,-12.1,141.1,-12.1,141.9,-13.3,140.9,-13.75,140.9,-16.7,143.6,-19.4,146.1,-16.9,146.7,-11.4,148.1,-11.4,148.3,-14.2,149.7,-15.4,149.7,-18.75,151.9,-20.8,151.7,-24.6,152.8,-25.8,152.2,-32.1,143.6,-38.9,143.3,-40.8,134.4,-40.8,133.1,-39.3,133,-36.25,131.7,-37.7,130,-34.6,123.1,-34.6,121.7,-36.1,116.1,-36.25,113.6,-38.1,111.4,-36.25,113.9,-34.4,114.2,-24.6,116.7,-22.7,122,-22.5,127.6,-17.3,129.1,-17.3,131.4,-15.2]],
	["Tasmania",0.89,[136.1,-42.75,139.4,-42.75,138.7,-45.7,136.3,-45.7]],
	["South Island",0.89,[152,-47.5,155,-45.2,160,-45.2,163.9,-42.1,163.9,-43.75,160.6,-46.8,155.6,-46.8,153.9,-48.5]],
	["North Island",0.89,[164.7,-43.75,165.6,-41.25,167.6,-40,167.6,-36.5,168.3,-37.1,168.3,-39.6,169.8,-39.8,165.6,-42.9]]
];
// tiny islands drawn as small squares
var paleIslets = [-63.9,34.4,-78.3,28.6,-79.4,26.8,-77.4,27.1,-79.3,25.8,-76.3,25.6,-76.1,24.4,-74.1,23.75,-75.5,22.75,-85.2,23.2,-84.2,21,-82.5,21.4,-67.2,20,-65.7,20,-67.2,19.2,-65.5,19.2,-64.2,18.75,-65,18.3,-64.2,17.5,-64.2,16.25,-64.2,15.4,-64.4,14.3,-65,13.3,-63.9,12.3,-64.6,11.25,-73.6,13.75,-72.8,13.5,-71.7,13.1,-67.7,11.9,
	-16.9,34.75,-18.1,30.6,-18.5,29.8,-16.9,30.25,-16,29.8,-14.2,31,-15.9,-8.9,6.7,1.6,5.9,0,8.2,4.2,40.6,-6.1,47.7,-10.4,44.5,-12.9,45.3,-13.5,44.5,-13.9,46.1,-14.3,57.4,-4.4,57.2,-5.4,58.2,-11.7,56,-23.2,58.2,-22.25,55.1,13.75,
	-12,-39,-9,-42.5,35,-47.75,62,-50,63.7,-53,-26.3,19,-25.7,16.25,-29.7,41.25,-26,40,-169,4.5,-163.7,-4,-148.3,-8.75,-146.7,-10,-157.7,-18,-154.3,-17.5,-152.7,-18,-150.7,-18.75,-156,-20,-163.3,-22.5,-164.3,-21.75,-148.7,-20,-143.3,-19.25,-145,-29.5,-137.3,-25.75,-130.7,-26.5,-150,-24.25,-161.7,-27.5,-22,-56,-20.7,-57.75,
	-3.9,59.8,1.3,40.8,3,41.4,13.9,37.9,16.1,66.9,20.2,67.9,24.4,69.2,75.6,5.8,75.8,2.25,75.7,-0.75,
	148.9,20.4,149.2,19.6,150.1,16.5,149.6,14.6,157.7,8,164.6,7.5,169.9,5.75,143.2,10.25,139.8,8,180.6,1.25,181.3,0.1,174.4,-0.7,196.7,-3.25,186,-8.25,195.7,-10.1,195.9,-12.3,193.6,-15,194.4,-15.4,195.4,-15.75,196.8,-15.8,183.2,-13.8,171.9,-12.1,165.8,-12.9,156.6,-10.75,158.7,-10.25,158.9,-12.7,153.1,-2.6,156.1,-1.8,190.4,-20.5,194.4,-21,188.2,-23.3,163.3,-21,170,-22.6,170.8,-23.8,173.1,-20.8,173.1,-22.2,172.7,-19.6,172.8,-18.6,183.9,-20.25,185.8,-19.6,185.3,-18.75,
	97,7.9,95.6,11.5,99.8,2.9,101.3,1,103,-1.5,109.2,-11.7,99.9,-13.4,108.7,0.4,118,-7.75,126.1,6.3,125,13.9,129.9,-2.1,131.1,-2.4,133.1,-2,135.8,-2.2,136.1,-0.2,132,-4,138.1,-6.5,134.8,-8.9,136.8,-8.6,131.1,-8.6,128.7,-9.2,124.4,-10.7,112,-3.6];
var darkIslets = [-143.9,54.2,-141.9,54.4,-139.8,54.75,-163.9,23.75,-162.8,24,-161.7,23.3,-160.5,22.7,-160.9,21.8,-160,21.1,-62.7,14.3,174.2,15.75,172.6,9.6,178.7,7.6,175.8,5.2,147.8,-51.7,160.3,-50.75];
var blueIslets = [139,51.25,139.1,50,138.3,47.5,137.2,46.7,143.3,54.8,137.2,57.7,151.9,52.9,128.9,32.25,128.7,30.2,128,28.75,135.6,36.4,136.7,35.2,124.1,35.25,-6.8,-17.6];

var width = 1135, height = 724;
var plot = {x: 7, y: 55, width: 1115, height: 665};
var zeroLon = 520, zeroLat = 400;

var lonScale = d3.scaleLinear().domain([0, 100]).range([zeroLon, zeroLon + 300]);
var latScale = d3.scaleLinear().domain([0, 100]).range([zeroLat, zeroLat - 400]);
var color = d3.scaleLinear().domain(rateStops).range(rateColors);
var noDataColor = "#c8c8c8";
var seaColor = "#eaf4fa";
var coastColor = "#1a7dab";
var borderColor = "#9ea3a6";

function fillOf(rate) { return rate === null ? noDataColor : color(rate); }

// flat lon,lat list to a closed ring
function ring(flat) {
	var r = d3.range(0, flat.length, 2).map(function(i) { return [flat[i], flat[i + 1]]; });
	r.push(r[0]);
	return r;
}

var planar = d3.geoTransform({
	point: function(lon, lat) { this.stream.point(lonScale(lon), latScale(lat)); }
});
var path = d3.geoPath(planar);

function polygon(rings) { return {type: "Polygon", coordinates: rings.map(ring)}; }

var svg = d3.select("#chart");
var defs = svg.append("defs");

svg.append("text")
	.attr("x", 7).attr("y", 23)
	.attr("font-size", 21.2).attr("font-weight", 700).attr("fill", "#222")
	.text(chartTitle);

svg.append("rect")
	.attr("x", plot.x).attr("y", plot.y).attr("width", plot.width).attr("height", plot.height)
	.attr("fill", seaColor);

var landShapes = mainlands.map(function(m, i) {
	return polygon(i === 2 ? [m, caspianSea] : [m]);
});

var clip = defs.append("clipPath").attr("id", "land");
clip.selectAll("path").data(landShapes).enter().append("path")
	.attr("clip-rule", "evenodd")
	.attr("d", path);

var map = svg.append("g");

map.selectAll("path.base").data(landShapes).enter().append("path")
	.attr("class", "base")
	.attr("fill", color(0.05))
	.attr("fill-rule", "evenodd")
	.attr("d", path);

var rows = northAmerica.concat(southAmerica, europe, asia, africa);

map.append("g")
	.attr("clip-path", "url(#land)")
	.selectAll("path").data(rows).enter().append("path")
	.attr("fill", function(d) { return fillOf(d[1]); })
	.attr("stroke", borderColor)
	.attr("stroke-width", 1.2)
	.attr("stroke-linejoin", "round")
	.attr("d", function(d) { return path(polygon([d[2]])); });

map.selectAll("path.coast").data(landShapes).enter().append("path")
	.attr("class", "coast")
	.attr("fill", "none")
	.attr("stroke", coastColor)
	.attr("stroke-width", 1.2)
	.attr("d", path);

map.selectAll("path.island").data(islands).enter().append("path")
	.attr("class", "island")
	.attr("fill", function(d) { return fillOf(d[1]); })
	.attr("stroke", coastColor)
	.attr("stroke-width", 1.2)
	.attr("d", function(d) { return path(polygon([d[2]])); });

function drawIslets(flat, fill) {
	var pts = d3.range(0, flat.length, 2).map(function(i) { return [flat[i], flat[i + 1]]; });
	map.append("g").selectAll("rect").data(pts).enter().append("rect")
		.attr("x", function(d) { return lonScale(d[0]) - 1.8; })
		.attr("y", function(d) { return latScale(d[1]) - 1.8; })
		.attr("width", 3.6).attr("height", 3.6)
		.attr("fill", fill)
		.attr("stroke", coastColor)
		.attr("stroke-width", 1.1);
}
drawIslets(paleIslets, color(0.08));
drawIslets(blueIslets, color(0.5));
drawIslets(darkIslets, color(0.89));

// legend
var legend = svg.append("g");
var legendX = d3.scaleLinear().domain(rateExtent).range([468, 676]);

var grad = defs.append("linearGradient").attr("id", "rateGradient");
grad.selectAll("stop").data(rateStops).enter().append("stop")
	.attr("offset", function(d) { return (legendX(d) - 468) / 208; })
	.attr("stop-color", function(d) { return color(d); });

legend.append("rect")
	.attr("x", legendX(rateExtent[0])).attr("y", 641)
	.attr("width", legendX(rateExtent[1]) - legendX(rateExtent[0])).attr("height", 13)
	.attr("fill", "url(#rateGradient)");

legend.append("rect")
	.attr("x", 694).attr("y", 641).attr("width", 35).attr("height", 13)
	.attr("fill", noDataColor);

legend.append("text")
	.attr("x", 579.5).attr("y", 635)
	.attr("text-anchor", "middle").attr("font-size", 18.4).attr("fill", "#111")
	.text(legendTitle);

legend.append("text")
	.attr("x", legendX(rateExtent[0])).attr("y", 677)
	.attr("font-size", 16).attr("fill", "#111")
	.text(d3.format(".2f")(rateExtent[0]));

legend.append("text")
	.attr("x", legendX(rateExtent[1])).attr("y", 677)
	.attr("text-anchor", "end").attr("font-size", 16).attr("fill", "#111")
	.text(d3.format(".2f")(rateExtent[1]));

legend.append("text")
	.attr("x", 683).attr("y", 677)
	.attr("font-size", 16).attr("fill", "#111")
	.text(noDataLabel);
</script>
</body>
</html>
